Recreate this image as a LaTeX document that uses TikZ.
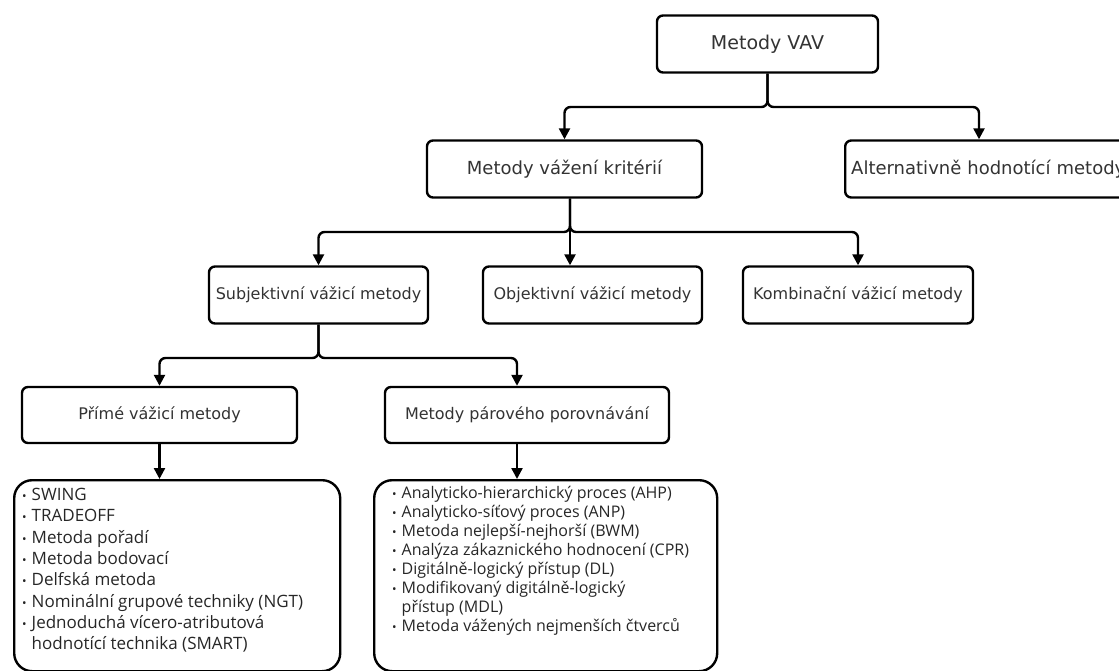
\documentclass[tikz,border=0pt]{standalone}
\usepackage{fontspec}
\setmainfont{DejaVu Sans}
\newfontfamily\listfont{Open Sans}
\usepackage{tikz}
\usetikzlibrary{arrows.meta,positioning,calc}

\newcommand{\bod}{{\fontsize{12}{12}\selectfont •}\hspace{5pt}}
\newcommand{\odsaz}{\phantom{{\fontsize{12}{12}\selectfont •}}\hspace{5pt}}

\begin{document}
\begin{tikzpicture}[x=1pt,y=-1pt,
	box/.style={draw,line width=2.4pt,rounded corners=6pt,inner sep=0pt,minimum height=57pt,text=black!80,font=\fontsize{16}{19}\selectfont},
	seznam/.style={draw,line width=2.4pt,rounded corners=18pt,inner sep=0pt,minimum height=191pt,anchor=north west},
	polozky/.style={inner sep=0pt,align=left,text=black!85,anchor=north west},
	spoj/.style={line width=2.4pt,rounded corners=6pt,-{Triangle[length=11pt,width=11pt]}}]
	\useasboundingbox (0,0) rectangle (1119,671);
	\clip (0,0) rectangle (1119,671);

	\node[box,minimum width=221pt,font=\fontsize{19}{23}\selectfont] (vav) at (767.5,44) {Metody VAV};

	\node[box,minimum width=275pt,font=\fontsize{18}{22}\selectfont] (vaz) at (564.5,169) {Metody vážení kritérií};
	\node[box,minimum width=292pt,text width=280pt,align=left,anchor=west,font=\fontsize{18}{22}\selectfont] (alt) at (844,169) {Alternativně hodnotící metody};

	\node[box,minimum width=219pt] (subj) at (318.5,295) {Subjektivní vážicí metody};
	\node[box,minimum width=219pt] (obj) at (592.5,295) {Objektivní vážicí metody};
	\node[box,minimum width=230pt] (komb) at (858,295) {Kombinační vážicí metody};

	\node[box,minimum width=275pt,minimum height=56pt] (prime) at (159.5,415) {Přímé vážicí metody};
	\node[box,minimum width=284pt,minimum height=56pt] (parove) at (527,415) {Metody párového porovnávání};

	\node[seznam,minimum width=326pt] (seznamA) at (13,479) {};
	\node[seznam,minimum width=343pt] (seznamB) at (373,479) {};

	\node[polozky,font=\listfont\fontsize{17}{21.3}\selectfont,below right=9pt and 9pt of seznamA.north west] (textA) {\bod SWING\\ \bod TRADEOFF\\ \bod Metoda pořadí\\ \bod Metoda bodovací\\ \bod Delfská metoda\\ \bod Nominální grupové techniky (NGT)\\ \bod Jednoduchá vícero-atributová\\ \odsaz hodnotící technika (SMART)};
	\node[polozky,font=\listfont\fontsize{16}{19}\selectfont,below right=7pt and 19pt of seznamB.north west] (textB) {\bod Analyticko-hierarchický proces (AHP)\\ \bod Analyticko-síťový proces (ANP)\\ \bod Metoda nejlepší-nejhorší (BWM)\\ \bod Analýza zákaznického hodnocení (CPR)\\ \bod Digitálně-logický přístup (DL)\\ \bod Modifikovaný digitálně-logický\\ \odsaz přístup (MDL)\\ \bod Metoda vážených nejmenších čtverců};

	\coordinate (r1) at (767.5,107);
	\coordinate (r1b) at (979,107);
	\draw[spoj] (vav.south) -- (r1) -| (vaz.north);
	\draw[spoj] (vav.south) -- (r1) -- (r1b) -- (r1b |- alt.north);

	\coordinate (r2) at (570,232);
	\draw[spoj] (r2 |- vaz.south) -- (r2) -| (subj.north);
	\draw[spoj] (r2 |- vaz.south) -- (r2 |- obj.north);
	\draw[spoj] (r2 |- vaz.south) -- (r2) -| (komb.north);

	\coordinate (r3) at (318.5,358);
	\coordinate (r3b) at (517,358);
	\draw[spoj] (subj.south) -- (r3) -| (prime.north);
	\draw[spoj] (subj.south) -- (r3) -- (r3b) -- (r3b |- parove.north);

	\draw[spoj] (prime.south) -- (prime.south |- seznamA.north);
	\draw[spoj] (r3b |- parove.south) -- (r3b |- seznamB.north);
\end{tikzpicture}
\end{document}
